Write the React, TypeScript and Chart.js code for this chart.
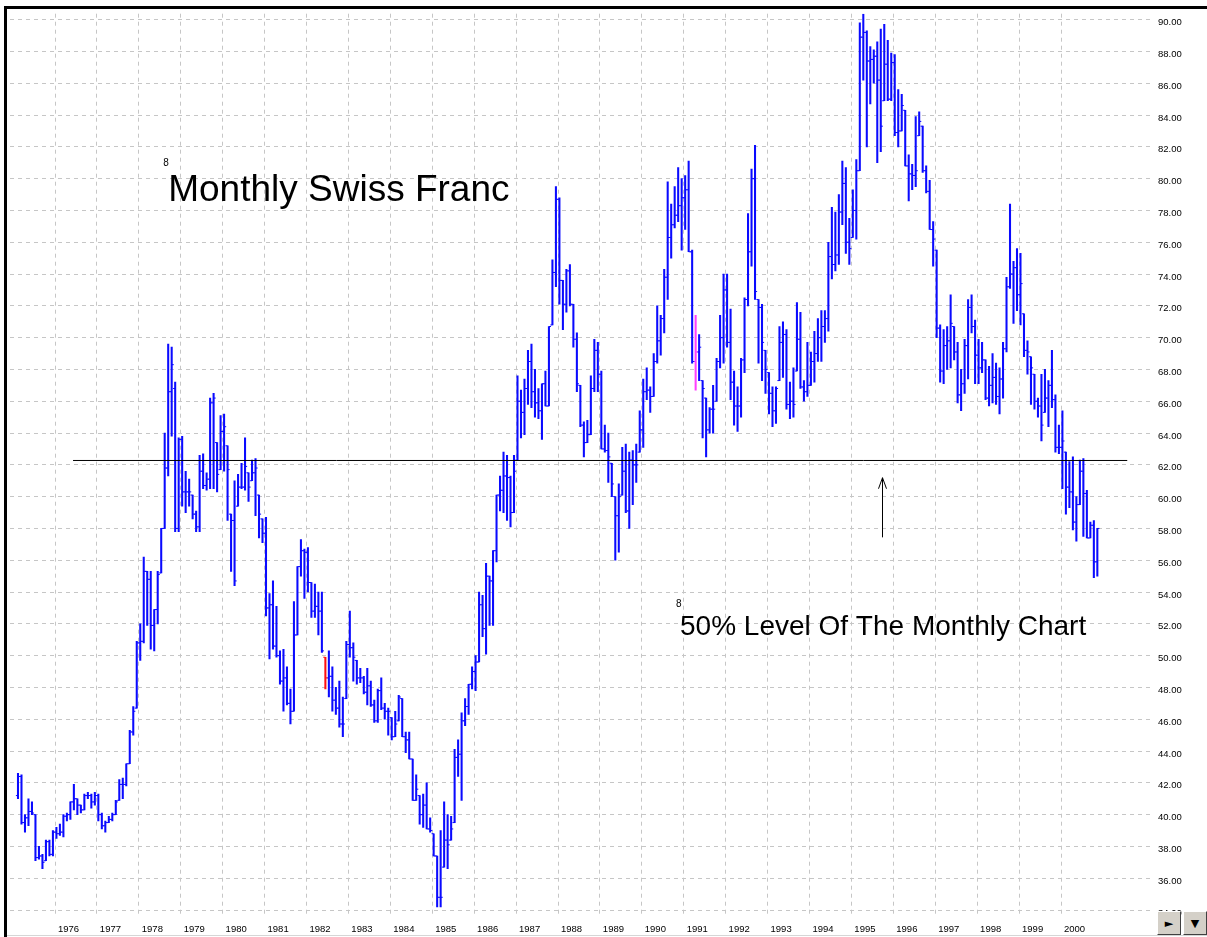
import React, { useEffect, useRef } from "react";
import { Chart, registerables } from "chart.js";

Chart.register(...registerables);

// ---------- data : monthly bars, first bar = February 1975 ----------
const firstYear = 1975;
const firstMonth = 2;

const high = [
  42.6, 42.5, 40.0, 41.0, 40.8, 40.0, 38.0, 37.5, 38.4, 38.4, 39.0,
  39.2, 39.4, 40.0, 40.1, 40.8, 41.9, 41.0, 40.6, 41.3, 41.4, 41.3, 41.4,
  41.3, 40.1, 39.6, 39.9, 40.1, 40.9, 42.2, 42.3, 43.2, 45.3, 46.8, 50.9,
  52.0, 56.2, 55.3, 55.3, 52.9, 55.3, 58.0, 64.0, 69.6, 69.4, 67.2, 63.7,
  63.8, 61.6, 61.1, 60.1, 59.1, 62.6, 62.7, 61.5, 66.2, 66.5, 63.4, 65.1,
  65.2, 63.2, 58.9, 61.0, 61.4, 62.1, 63.7, 61.5, 62.3, 62.4, 60.1, 58.6,
  58.7, 53.9, 54.7, 53.1, 50.3, 50.4, 49.3, 47.9, 53.4, 55.6, 57.3, 56.7,
  56.8, 54.6, 54.5, 54.0, 54.0, 49.9, 50.3, 49.3, 48.0, 48.4, 47.4, 50.9,
  52.8, 50.8, 49.7, 49.2, 48.7, 49.2, 48.4, 47.2, 47.9, 48.6, 47.0, 46.7,
  46.1, 46.5, 47.5, 47.3, 45.2, 45.2, 43.5, 42.5, 41.2, 41.3, 42.0, 39.8,
  38.8, 37.4, 39.0, 40.8, 40.0, 39.9, 44.1, 44.7, 46.4, 47.3, 48.2, 49.3,
  50.0, 54.0, 53.8, 55.8, 55.0, 56.6, 60.1, 61.3, 62.8, 62.6, 61.3, 62.6,
  67.6, 66.7, 67.4, 69.2, 69.6, 68.0, 66.8, 67.1, 67.9, 70.7, 74.9, 79.5,
  78.8, 73.6, 74.3, 74.6, 72.1, 70.3, 67.0, 64.7, 64.8, 67.6, 69.9, 69.7,
  67.9, 64.5, 64.0, 62.1, 60.0, 60.8, 63.1, 63.3, 62.8, 62.9, 63.3, 65.4,
  67.4, 68.1, 66.9, 69.0, 72.0, 71.4, 74.3, 79.8, 78.4, 79.5, 80.7, 80.0,
  80.2, 81.1, 75.5, 71.4, 70.2, 67.3, 66.2, 65.6, 67.0, 68.7, 71.4, 74.0,
  74.0, 71.8, 67.9, 66.9, 68.7, 72.5, 77.8, 80.6, 82.1, 72.4, 72.1, 69.2,
  67.8, 66.9, 66.9, 70.7, 71.0, 70.5, 67.2, 68.1, 72.2, 71.6, 67.3, 69.7,
  69.1, 70.4, 71.2, 71.7, 71.7, 76.0, 78.2, 77.9, 79.0, 81.1, 80.7, 77.5,
  79.3, 81.2, 89.8, 90.35, 89.3, 88.3, 88.1, 88.6, 89.4, 89.7, 88.7, 87.9,
  87.8, 85.6, 85.3, 84.3, 81.5, 80.9, 83.9, 84.2, 83.3, 80.8, 79.9, 77.3,
  75.5, 70.8, 70.5, 70.7, 72.7, 70.7, 69.7, 68.0, 69.9, 72.4, 72.7, 71.1,
  69.9, 69.7, 68.6, 68.2, 69.0, 68.4, 68.1, 69.7, 73.8, 78.4, 74.8, 75.6,
  75.3, 71.5, 69.8, 68.8, 67.7, 66.2, 67.7, 68.0, 67.3, 69.2, 66.4, 64.5,
  65.4, 62.8, 62.2, 62.5, 60.0, 62.3, 62.4, 60.4, 58.4, 58.5, 58.0,
];

const low = [
  41.0, 39.4, 38.9, 39.3, 40.0, 37.1, 37.2, 36.6, 37.1, 37.4, 37.4,
  38.5, 38.7, 38.6, 39.6, 39.7, 40.3, 40.0, 40.1, 40.3, 41.0, 40.4, 40.6,
  39.6, 39.1, 38.9, 39.5, 39.6, 40.0, 40.9, 41.0, 41.8, 43.2, 45.0, 46.7,
  49.7, 50.8, 51.9, 50.4, 50.3, 52.0, 55.2, 58.0, 61.3, 63.8, 57.8, 57.8,
  59.4, 59.0, 59.4, 58.6, 57.8, 57.8, 60.5, 60.4, 60.5, 60.5, 60.3, 61.7,
  61.6, 58.5, 55.3, 54.4, 59.4, 60.5, 60.4, 59.7, 61.0, 58.8, 57.4, 57.1,
  52.5, 49.8, 50.4, 49.9, 48.2, 46.5, 46.9, 45.7, 46.5, 51.3, 55.0, 53.6,
  54.0, 52.4, 52.4, 51.3, 50.2, 47.9, 47.4, 46.5, 46.3, 45.5, 44.9, 47.3,
  49.9, 48.4, 48.2, 48.3, 47.6, 46.9, 46.8, 45.8, 45.8, 46.6, 46.0, 45.0,
  44.7, 44.9, 45.9, 44.9, 43.9, 43.5, 40.9, 40.9, 39.4, 39.2, 39.1, 38.9,
  37.4, 34.2, 34.2, 36.7, 36.6, 38.4, 39.5, 42.4, 40.9, 45.6, 46.3, 47.9,
  47.8, 49.6, 51.2, 50.1, 51.9, 51.9, 55.9, 59.1, 59.0, 58.5, 58.1, 59.0,
  62.3, 63.7, 63.9, 65.8, 65.6, 65.0, 64.9, 63.6, 65.7, 65.7, 70.8, 73.2,
  72.1, 70.5, 71.6, 72.0, 69.4, 66.6, 64.4, 62.5, 63.4, 63.9, 66.6, 66.6,
  63.0, 62.8, 60.9, 60.0, 56.0, 56.5, 60.1, 59.0, 58.0, 59.5, 60.9, 62.8,
  63.1, 66.1, 65.3, 66.3, 68.4, 68.9, 70.3, 72.4, 75.0, 76.9, 77.3, 75.5,
  76.8, 75.4, 68.4, 66.7, 67.3, 63.7, 62.5, 64.0, 64.0, 66.0, 68.1, 68.4,
  69.4, 66.1, 64.5, 64.1, 65.0, 67.8, 72.0, 74.5, 72.4, 68.4, 67.3, 66.5,
  65.2, 64.4, 64.6, 67.3, 67.5, 65.5, 64.9, 65.0, 67.9, 66.8, 66.0, 66.3,
  67.0, 67.2, 68.5, 68.5, 69.7, 70.4, 73.7, 74.2, 74.6, 77.1, 75.3, 74.6,
  76.3, 76.2, 80.5, 86.2, 82.0, 84.7, 86.0, 81.0, 81.7, 84.9, 84.9, 84.9,
  82.7, 82.0, 83.0, 80.8, 78.6, 79.3, 79.5, 82.7, 80.4, 79.1, 76.8, 74.5,
  70.0, 67.2, 67.1, 68.0, 68.1, 68.6, 65.9, 65.4, 66.5, 67.4, 70.3, 67.1,
  67.1, 67.8, 66.1, 65.7, 65.9, 65.8, 65.2, 66.2, 69.1, 73.1, 70.9, 71.7,
  70.8, 68.8, 67.7, 65.8, 65.5, 65.0, 63.5, 65.3, 64.4, 65.6, 62.8, 62.7,
  60.5, 58.9, 59.3, 57.9, 57.2, 59.5, 57.5, 57.4, 57.4, 54.9, 55.0,
];

const open = [
  41.2, 42.4, 39.5, 39.8, 40.2, 40.0, 37.3, 37.4, 37.1, 38.3, 37.5,
  38.9, 38.8, 38.9, 39.9, 40.0, 40.8, 41.0, 40.6, 40.3, 41.2, 41.2, 40.8,
  41.2, 40.0, 39.3, 39.5, 39.7, 40.0, 40.9, 41.9, 41.9, 43.2, 45.2, 46.7,
  50.8, 50.9, 55.3, 54.8, 51.9, 52.9, 55.2, 58.0, 61.8, 66.6, 66.8, 58.0,
  63.6, 60.3, 60.3, 60.1, 58.9, 58.1, 61.6, 60.7, 61.1, 65.9, 63.4, 61.7,
  64.1, 63.2, 58.9, 58.5, 59.4, 60.6, 60.6, 61.5, 61.0, 61.5, 60.1, 58.6,
  57.7, 53.0, 53.2, 50.6, 50.0, 48.4, 48.6, 47.0, 46.5, 51.3, 55.6, 56.6,
  56.5, 54.6, 52.8, 53.1, 52.8, 49.9, 48.6, 48.7, 47.2, 46.7, 45.7, 47.3,
  50.7, 50.5, 49.7, 48.6, 48.6, 47.7, 48.1, 46.9, 45.9, 47.8, 46.7, 46.5,
  46.1, 44.9, 45.9, 47.3, 44.9, 44.7, 43.5, 40.9, 41.2, 40.0, 40.6, 39.1,
  38.8, 37.4, 34.8, 36.7, 38.4, 38.4, 39.5, 43.6, 43.8, 45.9, 46.8, 48.2,
  49.0, 49.6, 53.2, 51.7, 55.0, 54.7, 56.6, 60.1, 60.4, 61.3, 61.2, 59.0,
  62.3, 66.0, 65.3, 66.8, 68.5, 66.6, 65.9, 65.4, 67.1, 65.7, 70.8, 74.1,
  78.7, 73.6, 72.1, 74.2, 72.1, 69.9, 67.0, 64.5, 63.4, 63.9, 66.8, 69.2,
  67.7, 63.0, 62.9, 62.1, 60.0, 58.8, 60.1, 61.6, 59.1, 62.3, 62.0, 62.8,
  64.2, 66.6, 66.7, 66.3, 68.5, 69.8, 71.2, 73.8, 76.3, 77.1, 77.7, 78.3,
  78.8, 79.3, 75.4, 68.5, 69.1, 67.3, 66.2, 64.2, 65.5, 66.0, 68.5, 70.0,
  73.0, 69.7, 67.2, 65.7, 65.7, 68.6, 72.4, 75.4, 80.0, 72.4, 71.9, 69.2,
  67.8, 66.5, 65.4, 67.3, 69.7, 70.2, 65.8, 66.0, 67.9, 69.9, 66.9, 66.6,
  67.0, 68.5, 69.0, 70.0, 70.7, 71.2, 75.1, 74.6, 75.2, 77.9, 79.7, 76.0,
  76.3, 78.0, 80.5, 88.9, 89.2, 87.4, 87.5, 87.7, 86.2, 84.9, 87.2, 85.0,
  87.3, 82.9, 83.0, 84.3, 80.8, 80.3, 80.2, 82.7, 83.3, 80.5, 79.2, 76.8,
  75.5, 70.6, 67.9, 69.5, 69.8, 70.7, 69.1, 66.4, 67.1, 69.5, 71.9, 70.7,
  68.9, 68.1, 68.6, 66.2, 67.0, 67.5, 66.3, 67.4, 69.3, 73.2, 74.0, 74.4,
  72.7, 71.5, 69.2, 68.8, 67.7, 66.0, 65.7, 65.3, 66.2, 67.0, 66.1, 63.1,
  63.1, 62.8, 60.6, 60.3, 58.4, 59.5, 61.6, 60.2, 57.4, 58.2, 55.9,
];

const close = [
  42.4, 39.5, 39.8, 40.2, 40.1, 37.3, 37.4, 37.0, 38.3, 37.5, 38.9,
  38.8, 38.9, 39.9, 40.0, 40.8, 41.0, 40.6, 40.3, 41.2, 41.2, 40.8, 41.2,
  40.0, 39.3, 39.5, 39.7, 40.0, 40.8, 41.9, 41.9, 43.2, 45.2, 46.5, 50.8,
  50.9, 55.3, 54.8, 51.9, 52.9, 55.1, 58.0, 61.8, 66.6, 68.3, 58.0, 63.6,
  60.3, 60.3, 60.3, 58.9, 58.1, 61.6, 60.7, 61.1, 65.9, 66.2, 61.4, 64.1,
  64.4, 61.7, 58.5, 54.7, 60.6, 60.6, 61.9, 60.6, 61.5, 61.8, 58.9, 57.7,
  53.0, 53.2, 50.6, 50.0, 48.4, 48.6, 47.0, 46.5, 51.3, 55.6, 56.6, 56.5,
  54.6, 52.8, 53.1, 52.8, 50.3, 48.6, 48.7, 47.2, 46.7, 45.7, 45.7, 50.7,
  50.5, 49.9, 48.6, 48.6, 47.7, 48.1, 46.9, 45.9, 47.8, 46.7, 46.5, 46.5,
  44.9, 45.7, 47.4, 44.9, 44.7, 43.5, 40.9, 41.6, 40.0, 40.6, 39.1, 39.0,
  37.4, 34.8, 34.8, 38.4, 38.1, 39.1, 43.6, 43.8, 45.9, 46.8, 48.2, 49.0,
  49.6, 53.2, 51.7, 55.0, 54.7, 56.6, 60.1, 60.4, 61.3, 61.2, 59.0, 61.6,
  66.0, 65.3, 66.8, 68.5, 66.6, 65.9, 65.4, 67.1, 65.7, 70.7, 74.1, 78.7,
  73.6, 72.1, 74.2, 72.1, 69.9, 67.1, 64.5, 63.4, 63.9, 66.8, 69.2, 67.7,
  63.0, 62.9, 62.5, 60.8, 58.8, 60.0, 61.6, 59.1, 62.3, 62.0, 62.0, 64.2,
  66.6, 66.7, 66.3, 68.5, 69.8, 71.2, 73.8, 76.3, 77.1, 77.7, 78.3, 78.8,
  79.3, 75.4, 68.5, 69.1, 69.4, 66.8, 64.2, 65.5, 65.5, 68.5, 70.0, 73.0,
  69.7, 67.2, 65.7, 65.7, 68.6, 72.4, 75.4, 80.0, 72.9, 71.9, 69.7, 68.0,
  66.5, 65.4, 66.8, 69.7, 70.2, 65.8, 66.0, 65.8, 69.9, 66.9, 66.6, 67.0,
  68.5, 69.0, 70.0, 70.7, 71.2, 75.1, 74.6, 75.2, 77.9, 79.7, 76.0, 75.6,
  78.0, 80.5, 88.9, 89.2, 87.4, 87.5, 87.7, 86.2, 83.3, 87.2, 85.0, 87.3,
  82.9, 83.0, 84.6, 80.8, 80.3, 80.2, 80.5, 83.6, 80.5, 79.2, 76.8, 76.2,
  70.6, 67.9, 69.5, 69.8, 70.9, 69.1, 66.4, 67.1, 69.5, 71.9, 70.7, 68.9,
  68.1, 68.6, 66.2, 67.0, 67.5, 66.3, 67.4, 69.3, 73.2, 74.0, 74.4, 72.7,
  73.4, 69.2, 69.1, 68.1, 66.0, 65.7, 64.5, 66.2, 67.0, 66.1, 63.1, 63.1,
  63.5, 60.6, 60.3, 58.4, 59.5, 61.6, 60.2, 57.4, 58.2, 55.9, 58.0,
];

const yearTicks = [
  1976, 1977, 1978, 1979, 1980, 1981, 1982, 1983, 1984, 1985, 1986, 1987, 1988,
  1989, 1990, 1991, 1992, 1993, 1994, 1995, 1996, 1997, 1998, 1999, 2000,
];
const priceTicks = [
  34, 36, 38, 40, 42, 44, 46, 48, 50, 52, 54, 56, 58, 60, 62, 64, 66, 68, 70,
  72, 74, 76, 78, 80, 82, 84, 86, 88, 90,
];

const redBars = [88];
const magentaBars = [194];

const titleText = "Monthly Swiss Franc";
const noteText = "50% Level Of The Monthly Chart";

// annotation anchors in data units (decimal year, price)
const titleAnchor = { x: 1978.7, y: 78.62 };
const noteAnchor = { x: 1990.91, y: 51.31 };
const arrowAnchor = { x: 1995.74, from: 57.44, to: 61.19 };
const levelSpan = [1976.43, 2001.58];

// axis ranges
const X_MIN = 1974.926;
const X_MAX = 2002.123;
const Y_MIN = 33.6875;
const Y_MAX = 90.375;

const BAR_SLOT = 0.4; // position of bar within its month
const TICK_SHIFT = 0.3; // open/close tick shift, in months

const FONT = "'Liberation Sans', Arial, sans-serif";

const barColor = (i: number) =>
  redBars.includes(i) ? "#ff1010" : magentaBars.includes(i) ? "#ff40ff" : "#0a0aff";

const annotationPlugin = {
  id: "swissAnnotations",
  afterDatasetsDraw(chart: any) {
    const { ctx } = chart;
    const x = chart.scales.x;
    const y = chart.scales.y;
    ctx.save();
    // arrow
    const ax = Math.round(x.getPixelForValue(arrowAnchor.x)) + 0.5;
    const ay1 = y.getPixelForValue(arrowAnchor.from);
    const ay2 = y.getPixelForValue(arrowAnchor.to);
    ctx.strokeStyle = "#000";
    ctx.lineWidth = 1;
    ctx.beginPath();
    ctx.moveTo(ax, ay1);
    ctx.lineTo(ax, ay2);
    ctx.stroke();
    ctx.beginPath();
    ctx.moveTo(ax - 4, ay2 + 11);
    ctx.lineTo(ax, ay2);
    ctx.lineTo(ax + 4, ay2 + 11);
    ctx.stroke();

    ctx.fillStyle = "#000";
    ctx.textAlign = "left";
    ctx.textBaseline = "alphabetic";
    // title
    const tx = x.getPixelForValue(titleAnchor.x);
    const ty = y.getPixelForValue(titleAnchor.y);
    ctx.font = `37px ${FONT}`;
    ctx.fillText(titleText, tx, ty);
    ctx.font = `10px ${FONT}`;
    ctx.fillText("8", tx - 5, ty - 35);
    // note
    const nx = x.getPixelForValue(noteAnchor.x);
    const ny = y.getPixelForValue(noteAnchor.y);
    ctx.font = `28px ${FONT}`;
    ctx.fillText(noteText, nx, ny);
    ctx.font = `10px ${FONT}`;
    ctx.fillText("8", nx - 4, ny - 28);
    ctx.restore();
  },
};

export default function App() {
  const canvasRef = useRef<HTMLCanvasElement | null>(null);

  useEffect(() => {
    if (!canvasRef.current) return;
    const xs = high.map((_, i) => firstYear + (firstMonth - 1 + i + BAR_SLOT) / 12);
    const colors = xs.map((_, i) => barColor(i));
    const level = (Math.max(...high) + Math.min(...low)) / 2;
    const shift = TICK_SHIFT / 12;

    const chart = new Chart(canvasRef.current, {
      type: "scatter",
      data: {
        datasets: [
          {
            type: "line",
            data: [
              { x: levelSpan[0], y: level },
              { x: levelSpan[1], y: level },
            ],
            borderColor: "#000",
            borderWidth: 1,
            pointRadius: 0,
            order: 0,
          } as any,
          {
            type: "bar",
            data: xs.map((x, i) => ({ x, y: [low[i], high[i]] })),
            backgroundColor: colors,
            borderWidth: 0,
            barThickness: 1.4,
            order: 3,
          } as any,
          {
            type: "scatter",
            data: xs.map((x, i) => ({ x: x - shift, y: open[i] })),
            pointStyle: "line",
            pointRadius: 1.05,
            pointBorderWidth: 1,
            pointBorderColor: colors,
            pointBackgroundColor: colors,
            order: 2,
          } as any,
          {
            type: "scatter",
            data: xs.map((x, i) => ({ x: x + shift, y: close[i] })),
            pointStyle: "line",
            pointRadius: 1.05,
            pointBorderWidth: 1,
            pointBorderColor: colors,
            pointBackgroundColor: colors,
            order: 1,
          } as any,
        ],
      },
      options: {
        animation: false,
        responsive: false,
        maintainAspectRatio: false,
        devicePixelRatio: 1,
        events: [],
        layout: { padding: { left: 10, top: 8, right: 0, bottom: 0 } },
        plugins: {
          legend: { display: false },
          tooltip: { enabled: false },
          title: { display: false },
        },
        scales: {
          x: {
            type: "linear",
            min: X_MIN,
            max: X_MAX,
            offset: false,
            afterBuildTicks: (scale: any) => {
              scale.ticks = yearTicks.map((value) => ({ value }));
            },
            afterFit: (scale: any) => {
              scale.height = 22;
            },
            grid: { color: "#c6c6c6", lineWidth: 1, drawTicks: false, offset: false },
            border: { display: false, dash: [4, 4] },
            ticks: {
              autoSkip: false,
              maxRotation: 0,
              minRotation: 0,
              padding: 9,
              labelOffset: 13.5,
              color: "#000",
              font: { family: FONT, size: 9.5 },
              callback: (v: any) => String(v),
            },
          },
          y: {
            type: "linear",
            position: "right",
            min: Y_MIN,
            max: Y_MAX,
            afterBuildTicks: (scale: any) => {
              scale.ticks = priceTicks.map((value) => ({ value }));
            },
            afterFit: (scale: any) => {
              scale.width = 57;
            },
            grid: { color: "#c6c6c6", lineWidth: 1, drawTicks: false, offset: false },
            border: { display: false, dash: [4, 4] },
            ticks: {
              autoSkip: false,
              padding: 8,
              labelOffset: 3,
              color: "#000",
              font: { family: FONT, size: 9.5 },
              callback: (v: any) => Number(v).toFixed(2),
            },
          },
        },
      } as any,
      plugins: [annotationPlugin],
    });
    return () => chart.destroy();
  }, []);

  const btn: React.CSSProperties = {
    position: "absolute",
    top: 911,
    width: 24,
    height: 24,
    boxSizing: "border-box",
    background: "#d4d0c8",
    borderTop: "1px solid #ffffff",
    borderLeft: "1px solid #ffffff",
    borderRight: "1px solid #404040",
    borderBottom: "1px solid #404040",
    display: "flex",
    alignItems: "center",
    justifyContent: "center",
    fontFamily: "'DejaVu Sans', sans-serif",
    fontSize: 11,
    color: "#000",
  };

  return (
    <div
      style={{
        position: "fixed",
        left: 0,
        top: 0,
        width: 1207,
        height: 937,
        background: "#ffffff",
        overflow: "hidden",
      }}
    >
      <canvas
        ref={canvasRef}
        width={1207}
        height={937}
        style={{ position: "absolute", left: 0, top: 0, width: 1207, height: 937 }}
      />
      <div
        style={{
          position: "absolute",
          left: 4,
          top: 6,
          right: 0,
          bottom: 0,
          borderTop: "3px solid #000",
          borderLeft: "3px solid #000",
          pointerEvents: "none",
        }}
      />
      <div
        style={{
          position: "absolute",
          left: 7,
          top: 935,
          width: 1200,
          height: 1,
          background: "#d6d6d6",
        }}
      />
      <div style={{ ...btn, left: 1157 }}>►</div>
      <div style={{ ...btn, left: 1183 }}>▼</div>
    </div>
  );
}
